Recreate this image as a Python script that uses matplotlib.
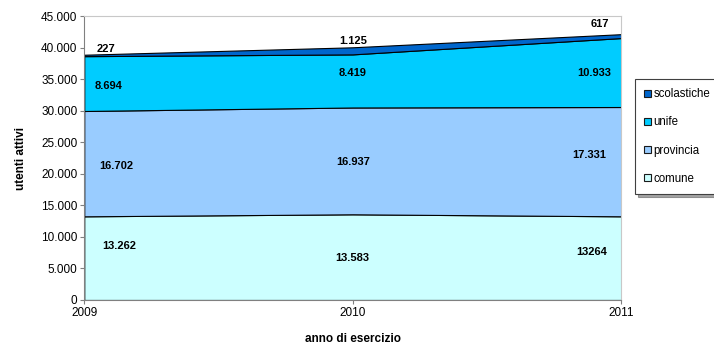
import numpy as np
import matplotlib.pyplot as plt
from matplotlib.patches import Patch

plt.rcParams['font.family'] = ['Liberation Sans', 'DejaVu Sans']

# dati: utenti attivi per anno
anni = [2009, 2010, 2011]
serie = ['comune', 'provincia', 'unife', 'scolastiche']
comune = [13262, 13583, 13264]
provincia = [16702, 16937, 17331]
unife = [8694, 8419, 10933]
scolastiche = [227, 1125, 617]
colori = ['#ccffff', '#99ccff', '#00ccff', '#0066cc']

# etichette come nell'originale (13264 senza punto)
etichette = [
    ['13.262', '13.583', '13264'],
    ['16.702', '16.937', '17.331'],
    ['8.694', '8.419', '10.933'],
    ['227', '1.125', '617'],
]
# posizione delle etichette (x, y in unita' dati)
pos_etichette = [
    [(2009.13, 8620), (2010.0, 6670), (2010.89, 7670)],
    [(2009.12, 21280), (2010.0, 21910), (2010.88, 23030)],
    [(2009.09, 33980), (2010.0, 36050), (2010.90, 36050)],
    [(2009.08, 39860), (2010.0, 41130), (2010.92, 43830)],
]

fig = plt.figure(figsize=(7.14, 3.44), dpi=100)
ax = fig.add_axes([0.118, 0.128, 0.752, 0.825])

ax.stackplot(anni, comune, provincia, unife, scolastiche, colors=colori,
             edgecolor='black', linewidth=0.8)

for lab_serie, pos_serie in zip(etichette, pos_etichette):
    for testo, (x, y) in zip(lab_serie, pos_serie):
        ax.text(x, y, testo, ha='center', va='center', fontsize=8,
                fontweight='bold', color='black')

ax.set_xlim(2009, 2011)
ax.set_ylim(0, 45000)
ax.set_xticks(anni)
ax.set_xticklabels([str(a) for a in anni])
ax.set_yticks(np.arange(0, 45001, 5000))
ax.set_yticklabels(['0'] + [f'{v // 1000}.000' for v in range(5000, 45001, 5000)])
ax.tick_params(axis='both', labelsize=8.5, length=3, color='#808080', pad=2)

for s in ['left', 'bottom']:
    ax.spines[s].set_color('#808080')
for s in ['top', 'right']:
    ax.spines[s].set_color('#c8c8c8')

ax.set_ylabel('utenti attivi', fontsize=8.5, fontweight='bold', labelpad=10)
ax.set_xlabel('anno di esercizio', fontsize=8.5, fontweight='bold', labelpad=10)

handles = [Patch(facecolor=c, edgecolor='#1a1a1a', linewidth=0.8) for c in colori]
leg = fig.legend(handles[::-1], serie[::-1], loc='upper left',
                 bbox_to_anchor=(0.881, 0.787), fontsize=8.3, frameon=True,
                 handlelength=0.6, handleheight=0.6, handletextpad=0.2,
                 labelspacing=1.4, borderpad=0.8, fancybox=False, shadow=True)
leg.get_frame().set_edgecolor('#404040')
leg.get_frame().set_linewidth(0.8)

fig.savefig('out.png', dpi=100)
